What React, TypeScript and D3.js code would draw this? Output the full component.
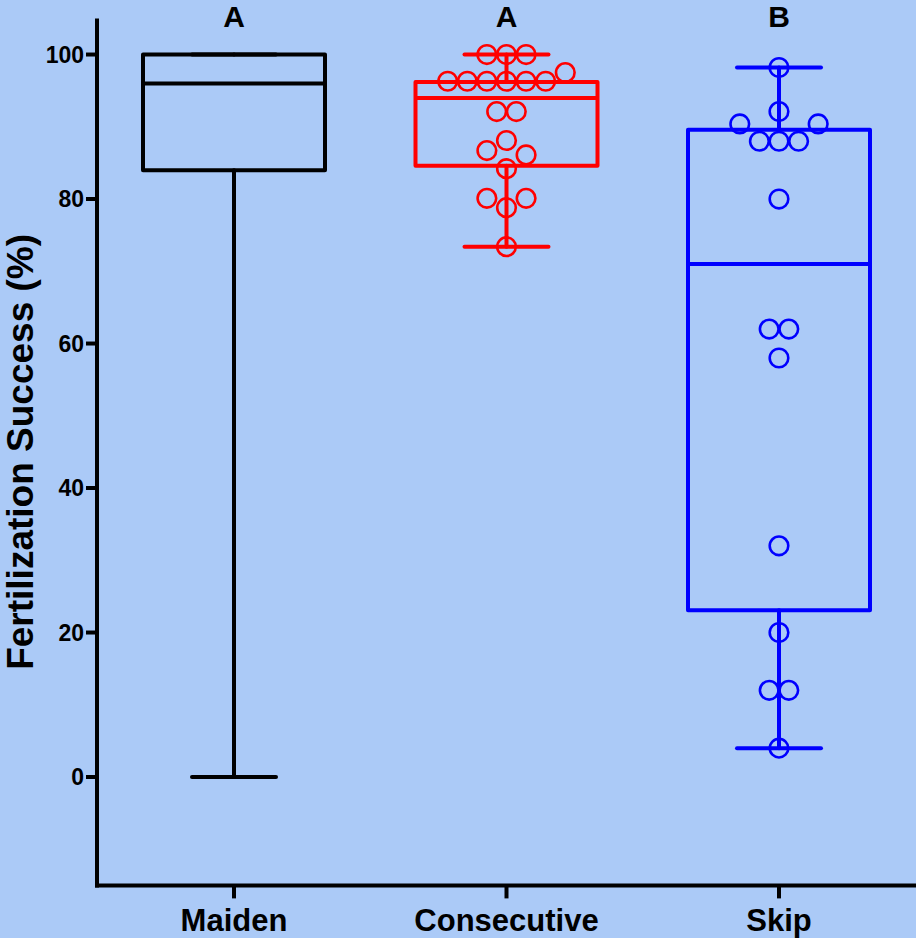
import React from "react";
import * as d3 from "d3";

const categories = ["Maiden", "Consecutive", "Skip"];
const groupLetters = ["A", "A", "B"];
const colors = ["#000000", "#ff0000", "#0000ff"];

// box stats: [min, q1, median, q3, max]
const maidenBox = [0, 84, 96, 100, 100];
const consecutiveBox = [73.4, 84.6, 94.0, 96.2, 100];
const skipBox = [4, 23.1, 71.0, 89.6, 98.2];

const maidenPoints: number[] = [];
const consecutivePoints = [
  100, 100, 100,
  96.3, 96.3, 96.3, 96.3, 96.3, 96.3,
  97.5,
  92.1, 92.1,
  88.1, 86.7, 86.1, 84.2,
  78.8, 80.1, 80.1,
  73.4,
];
const skipPoints = [98.2, 92.1, 88, 88, 88, 90.4, 90.4, 80, 62, 62, 58, 32, 20, 12, 12, 4];

const yTicks = [0, 20, 40, 60, 80, 100];

const W = 916;
const H = 938;

const boxes = [maidenBox, consecutiveBox, skipBox];
const pointSets = [maidenPoints, consecutivePoints, skipPoints];

function dodge(values: number[], y: (v: number) => number, step: number) {
  const ax = 19.5;
  const ay = 22;
  const placed: { x: number; y: number }[] = [];
  const collides = (ox: number, py: number) =>
    placed.some((p) => {
      const dx = (p.x - ox) / ax;
      const dy = (p.y - py) / ay;
      return dx * dx + dy * dy < 0.999;
    });
  const result: { v: number; off: number }[] = [];
  let i = 0;
  while (i < values.length) {
    let j = i;
    while (j + 1 < values.length && values[j + 1] === values[i]) j++;
    const n = j - i + 1;
    const py = y(values[i]);
    let done = false;
    if (n > 1 && n <= 3) {
      const offs = d3.range(n).map((k) => (k - (n - 1) / 2) * step);
      const ok = offs.every((o) => !collides(o, py));
      if (ok) {
        offs.forEach((o) => {
          placed.push({ x: o, y: py });
          result.push({ v: values[i], off: o });
        });
        done = true;
      }
    }
    if (!done) {
      for (let k = i; k <= j; k++) {
        const cands: number[] = [0];
        for (let h = 0.5; h <= 10; h += 0.5) cands.push(-h, h);
        const o = cands.map((c) => c * step).find((c) => !collides(c, py))!;
        placed.push({ x: o, y: py });
        result.push({ v: values[k], off: o });
      }
    }
    i = j + 1;
  }
  return result;
}

export default function App() {
  const y = d3.scaleLinear().domain([-15, 105]).range([885.4, 18.4]);
  const x = d3.scalePoint<string>().domain(categories).range([234, 779]);
  const axisX = 97;
  const axisY = y(-15);
  const boxHalf = 91;
  const capHalf = 42;
  const step = 19.6;
  const font = "'Liberation Sans', Arial, sans-serif";

  return (
    <svg
      width={W}
      height={H}
      style={{ position: "absolute", left: 0, top: 0, display: "block" }}
    >
      <rect x={0} y={0} width={W} height={H} fill="#abcaf7" />

      {/* boxes */}
      {categories.map((c, i) => {
        const [mn, q1, med, q3, mx] = boxes[i];
        const cx = x(c)!;
        const col = colors[i];
        return (
          <g key={c} stroke={col} strokeWidth={4} fill="none">
            <line x1={cx} x2={cx} y1={y(q3)} y2={y(mx)} strokeLinecap="round" />
            <line x1={cx} x2={cx} y1={y(q1)} y2={y(mn)} strokeLinecap="round" />
            <line x1={cx - capHalf} x2={cx + capHalf} y1={y(mx)} y2={y(mx)} strokeLinecap="round" />
            <line x1={cx - capHalf} x2={cx + capHalf} y1={y(mn)} y2={y(mn)} strokeLinecap="round" />
            <rect
              x={cx - boxHalf}
              y={y(q3)}
              width={boxHalf * 2}
              height={y(q1) - y(q3)}
              strokeLinejoin="round"
            />
            <line x1={cx - boxHalf} x2={cx + boxHalf} y1={y(med)} y2={y(med)} />
          </g>
        );
      })}

      {/* points */}
      {categories.map((c, i) => {
        const cx = x(c)!;
        const pts = dodge(pointSets[i], y, step);
        return (
          <g key={"p" + c} stroke={colors[i]} strokeWidth={2.6} fill="none">
            {pts.map((p, k) => (
              <circle key={k} cx={cx + p.off} cy={y(p.v)} r={9.3} />
            ))}
          </g>
        );
      })}

      {/* group letters */}
      {categories.map((c, i) => (
        <text
          key={"l" + c}
          x={x(c)}
          y={27}
          textAnchor="middle"
          fontFamily={font}
          fontWeight="bold"
          fontSize={30}
          fill="#000"
        >
          {groupLetters[i]}
        </text>
      ))}

      {/* y axis */}
      <line x1={axisX} x2={axisX} y1={y(105)} y2={axisY + 2} stroke="#000" strokeWidth={4} />
      {yTicks.map((t) => (
        <g key={"yt" + t}>
          <line x1={axisX - 11} x2={axisX} y1={y(t)} y2={y(t)} stroke="#000" strokeWidth={4} />
          <text
            x={axisX - 13}
            y={y(t)}
            dy="0.36em"
            textAnchor="end"
            fontFamily={font}
            fontWeight="bold"
            fontSize={23}
            fill="#000"
          >
            {t}
          </text>
        </g>
      ))}

      {/* x axis */}
      <line x1={axisX - 2} x2={W} y1={axisY} y2={axisY} stroke="#000" strokeWidth={4} />
      {categories.map((c) => (
        <g key={"xt" + c}>
          <line x1={x(c)} x2={x(c)} y1={axisY} y2={axisY + 13} stroke="#000" strokeWidth={4} />
          <text
            x={x(c)}
            y={931}
            textAnchor="middle"
            fontFamily={font}
            fontWeight="bold"
            fontSize={31}
            fill="#000"
          >
            {c}
          </text>
        </g>
      ))}

      {/* y title */}
      <text
        transform={`translate(33, ${(y(-15) + y(105)) / 2}) rotate(-90)`}
        textAnchor="middle"
        fontFamily={font}
        fontWeight="bold"
        fontSize={37}
        fill="#000"
      >
        Fertilization Success (%)
      </text>
    </svg>
  );
}
